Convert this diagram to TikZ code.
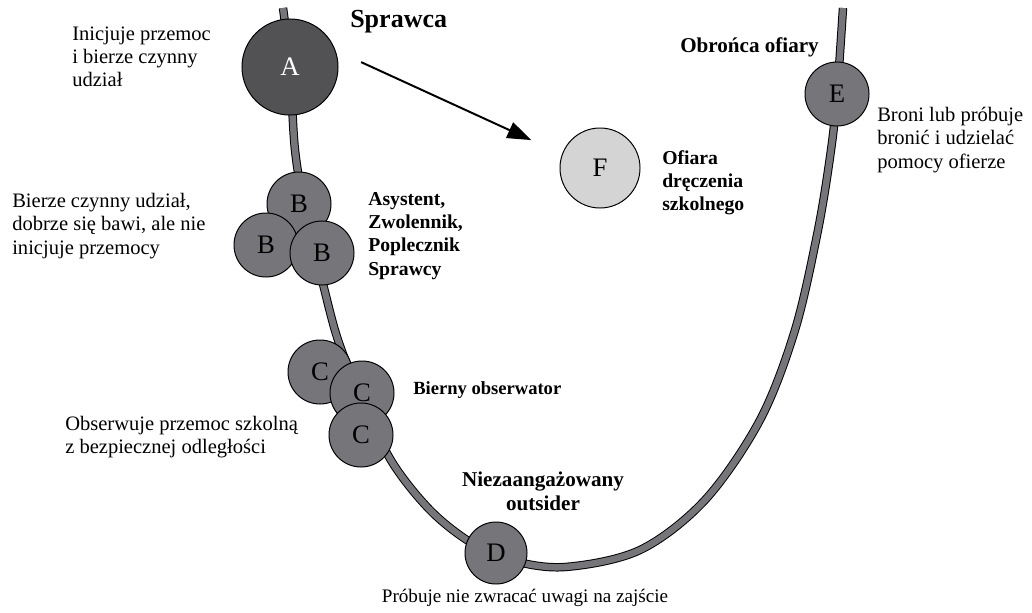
\documentclass[tikz,border=0pt]{standalone}
\usepackage{fontspec}
\setmainfont{Liberation Serif}
\usetikzlibrary{shapes,arrows.meta,positioning,calc}
\usepackage{xcolor}

\definecolor{rolegray}{RGB}{118,118,122}
\definecolor{bullygray}{RGB}{82,82,84}
\definecolor{victimgray}{RGB}{212,212,212}

\tikzset{
  role/.style={draw, circle, fill=rolegray, line width=0.7pt, minimum size=1.6cm,
    inner sep=0pt, font=\fontsize{19}{19}\selectfont},
  note/.style={inner sep=0pt, align=left, anchor=west, font=\fontsize{14.6}{16.5}\selectfont},
  title/.style={note, font=\fontsize{14}{16.5}\selectfont\bfseries}
}

\begin{document}
\begin{tikzpicture}[x=0.025cm, y=-0.025cm]
            \useasboundingbox (0,0) rectangle (1032,612);

            % The band everybody stands on
            \draw[line width=0.7pt, double=rolegray, double distance=4.6pt]
              plot[smooth, tension=0.55] coordinates {(283,8) (290,67) (295,150) (306,215)
                (322,280) (338,340) (362,400) (392,462) (430,510) (470,542) (510,560)
                (565,567) (640,550) (705,500) (760,420) (795,330) (818,230) (831,150)
                (837,94) (843,8)};

            % Sprawca
            \node[role, fill=bullygray, text=white, minimum size=2.4cm] (A) at (290,67) {A};
            \node[title, font=\fontsize{18.5}{20}\selectfont\bfseries] (sprawca) at (350,22) {Sprawca};
            \node[note] (noteA) at (72,57) {Inicjuje przemoc\\i bierze czynny\\udział};

            % Ofiara
            \node[role, fill=victimgray, minimum size=2.0cm] (F) at (600,168) {F};
            \node[title] (ofiara) at (662,183) {Ofiara\\dręczenia\\szkolnego};
            \draw[line width=1.4pt, -{Triangle[length=17pt, width=12pt]},
              shorten <=20pt, shorten >=24pt] (A.20) -- (F.160);

            % Asystenci
            \node[role] (B1) at (299,204) {B};
            \node[role] (B2) at (266,245) {B};
            \node[role] (B3) at (322,253) {B};
            \node[title] (asystent) at (368,236) {Asystent,\\Zwolennik,\\Poplecznik\\Sprawcy};
            \node[note] (noteB) at (12,226) {Bierze czynny udział,\\dobrze się bawi, ale nie\\inicjuje przemocy};

            % Obserwatorzy
            \node[role] (C1) at (320,372) {C};
            \node[role] (C2) at (362,393) {C};
            \node[role] (C3) at (361,435) {C};
            \node[title, font=\fontsize{13.2}{16}\selectfont\bfseries] (bierny) at (413,390) {Bierny obserwator};
            \node[note] (noteC) at (65,437) {Obserwuje przemoc szkolną\\z bezpiecznej odległości};

            % Outsider
            \node[role, minimum size=1.55cm] (D) at (496,553) {D};
            \node[title, align=center, anchor=center, font=\fontsize{15}{17}\selectfont\bfseries] (outsider) at (543,491) {Niezaangażowany\\outsider};
            \node[note, anchor=center, font=\fontsize{13.6}{16}\selectfont] (noteD) at (525,598) {Próbuje nie zwracać uwagi na zajście};

            % Obronca
            \node[role] (E) at (837,94) {E};
            \node[title, font=\fontsize{15}{17}\selectfont\bfseries] (obronca) at (680,47) {Obrońca ofiary};
            \node[note] (noteE) at (877,140) {Broni lub próbuje\\bronić i udzielać\\pomocy ofierze};
        \end{tikzpicture}
\end{document}
